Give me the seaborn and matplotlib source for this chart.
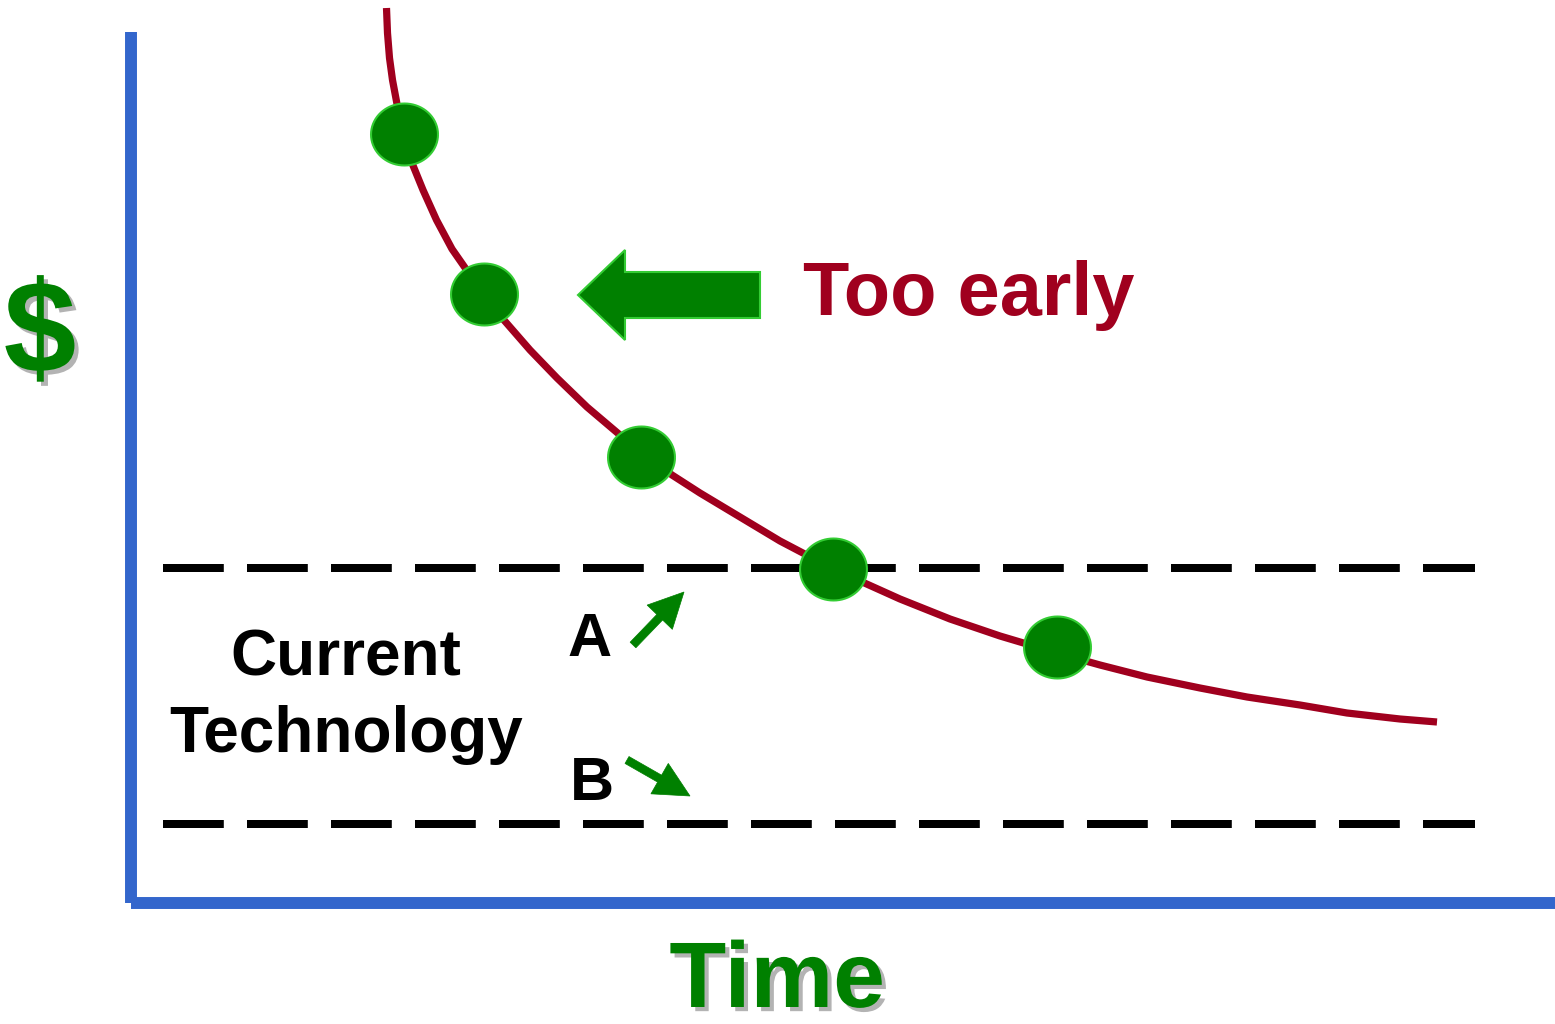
import numpy as np
import pandas as pd
import matplotlib
matplotlib.use("Agg")
import matplotlib.pyplot as plt
import matplotlib.patheffects as pe
from matplotlib.patches import FancyArrow
from matplotlib.path import Path
import seaborn as sns

# ---- data (units: time / cost, origin at axis corner) ----
curve_time = [255.5, 256.5, 258.5, 261.5, 266, 272, 281, 292, 305.5, 321, 337, 354,
              372, 399, 426, 456, 489, 514, 541, 569, 609, 649, 689, 729, 769, 819,
              869, 926, 969, 1016, 1069, 1116, 1169, 1216, 1269, 1306]
curve_cost = [895, 870, 845, 823, 799, 771, 740, 713, 683, 654, 631, 608,
              584, 553, 525, 496, 468, 448, 428, 410, 386, 362, 341, 322, 304, 284,
              267, 250, 238, 226, 215, 206, 198, 190, 184, 181]
dot_time = [273, 353, 510, 702, 926]
dot_cost = [769, 609, 446, 334, 256]
tech_levels = [335, 79]          # current technology cost band (A upper, B lower)
band_start, band_end = 32, 1344

GREEN = "#008000"
LGREEN = "#33CC33"
RED = "#A0001E"
BLUE = "#3366CC"

sns.set_style("white")
plt.rcParams["font.family"] = ["Liberation Sans", "DejaVu Sans"]
plt.rcParams["font.weight"] = "bold"

fig = plt.figure(figsize=(15.55, 10.24), dpi=100)
ax = fig.add_axes([131 / 1555, 121 / 1024, (1555 - 131) / 1555, (903 - 32) / 1024])
ax.set_xlim(0, 1424)
ax.set_ylim(0, 871)

df_curve = pd.DataFrame({"time": curve_time, "cost": curve_cost})
df_dots = pd.DataFrame({"time": dot_time, "cost": dot_cost})

# dashed technology levels
for lvl in tech_levels:
    ax.plot([band_start, band_end], [lvl, lvl], color="black", lw=5.76,
            linestyle=(0, (7.6, 2.9)), solid_capstyle="butt", zorder=1)

sns.lineplot(data=df_curve, x="time", y="cost", sort=False, estimator=None,
             color=RED, lw=5.2, ax=ax, zorder=2, solid_joinstyle="round",
             solid_capstyle="butt")
for ln in ax.lines:
    ln.set_clip_on(False)

# slightly wide elliptical dot marker
theta = np.linspace(0, 2 * np.pi, 73)
ell = Path(np.column_stack([np.cos(theta), np.sin(theta) * 62 / 67]))
sns.scatterplot(data=df_dots, x="time", y="cost", s=2323, color=GREEN, marker=ell,
                edgecolor=LGREEN, linewidth=1.5, ax=ax, zorder=3, clip_on=False)

# spines
sns.despine(ax=ax, top=True, right=True)
for side in ("left", "bottom"):
    ax.spines[side].set_color(BLUE)
    ax.spines[side].set_linewidth(8.6)
    ax.spines[side].set_capstyle("butt")
ax.set_xticks([])
ax.set_yticks([])
ax.set_xlabel("")
ax.set_ylabel("")

# big "too early" arrow
ax.add_patch(FancyArrow(629, 608, -182, 0, width=46, head_width=90, head_length=47,
                        length_includes_head=True, fc=GREEN, ec=LGREEN, lw=1.5,
                        clip_on=False, zorder=4))
# A and B arrows
ax.add_patch(FancyArrow(502, 258, 51, 53, width=8, head_width=35, head_length=35,
                        length_includes_head=True, fc=GREEN, ec=GREEN, lw=0.5,
                        clip_on=False, zorder=4))
ax.add_patch(FancyArrow(496, 143, 63, -36, width=8, head_width=35, head_length=35,
                        length_includes_head=True, fc=GREEN, ec=GREEN, lw=0.5,
                        clip_on=False, zorder=4))

# texts
ax.text(672, 588, "Too early", color=RED, fontsize=54.5, fontweight="bold",
        ha="left", va="baseline")
ax.text(215, 227, "Current", color="black", fontsize=46, fontweight="bold",
        ha="center", va="baseline")
ax.text(215, 151, "Technology", color="black", fontsize=46, fontweight="bold",
        ha="center", va="baseline")
ax.text(436, 247, "A", color="black", fontsize=44, fontweight="bold",
        ha="left", va="baseline")
ax.text(439, 103, "B", color="black", fontsize=44, fontweight="bold",
        ha="left", va="baseline")

shadow = [pe.withSimplePatchShadow(offset=(3, -3), shadow_rgbFace="#B3B3B3", alpha=1.0)]
ax.text(-91, 531, "$", color=GREEN, fontsize=94, fontweight="bold",
        ha="center", va="baseline", path_effects=shadow)
ax.text(646, -104, "Time", color=GREEN, fontsize=67, fontweight="bold",
        ha="center", va="baseline", path_effects=shadow)

fig.savefig("out.png", dpi=100)
